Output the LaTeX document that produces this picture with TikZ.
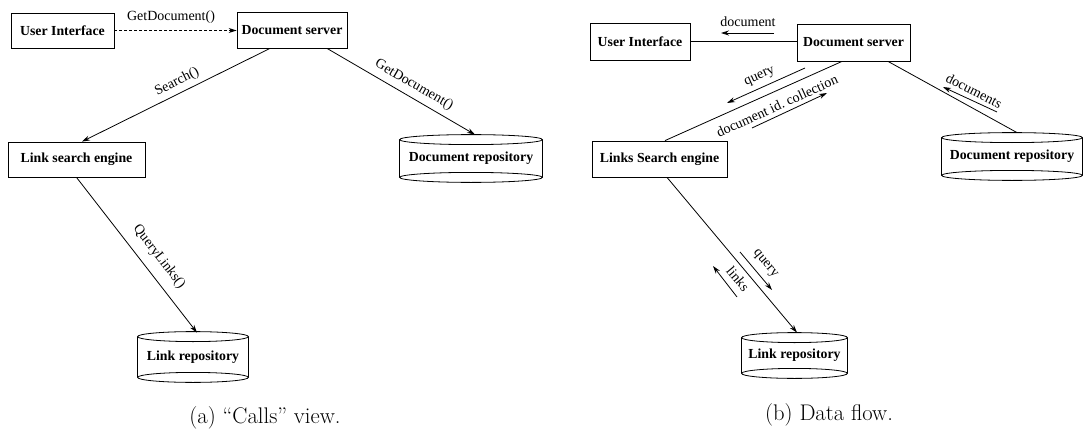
\documentclass[tikz,border=0pt]{standalone}
\usepackage{fontspec}
\newfontfamily\lbl{Liberation Serif}
\usetikzlibrary{arrows.meta,calc}
\begin{document}
\begin{tikzpicture}[x=1pt,y=-1pt,
  line width=0.8pt,
  box/.style={draw, rectangle, inner sep=0pt, font=\lbl\fontsize{13.8}{15}\bfseries\selectfont},
  repo/.style={rectangle, inner sep=0pt, font=\lbl\fontsize{13.8}{15}\bfseries\selectfont},
  lab/.style={inner sep=0pt, font=\lbl\fontsize{14}{16}\selectfont},
  captext/.style={inner sep=0pt, font=\fontsize{22.6}{27}\selectfont},
  tip/.style={-{Stealth[length=8pt,width=5pt]}},
  conn/.style={line width=0.8pt}]
\useasboundingbox (0,0) rectangle (1083,433);

% ---------- (a) Calls view ----------
\node[box, minimum width=103pt, minimum height=35pt] (ui1) at (62.5,30.5) {User Interface};
\node[box, minimum width=110pt, minimum height=36pt] (ds1) at (292,30) {Document server};
\node[box, minimum width=137pt, minimum height=35pt] (lse1) at (76.5,159.5) {Link search engine};
\node[repo, minimum width=142pt, minimum height=37pt] (dr1) at (471,158.5) {Document repository};
\node[repo, minimum width=110pt, minimum height=40pt] (lr1) at (193,357) {Link repository};

\draw[conn, tip, dash pattern=on 3pt off 2pt] (ui1.east) -- (ui1.east -| ds1.west);
\node[lab] (l1) at (171,17) {GetDocument()};

\draw[conn, tip] ([xshift=-22pt]ds1.south) -- ([xshift=5.5pt]lse1.north);
\node[lab, rotate=26.6] (l2) at (177,82) {Search()};

\draw[conn, tip] ([xshift=35pt]ds1.south) -- ([xshift=4pt,yshift=5pt]dr1.north);
\node[lab, rotate=-30] (l3) at (414,85) {GetDocument()};

\draw[conn, tip] (lse1.south) -- ([xshift=4pt,yshift=4pt]lr1.north);
\node[lab, rotate=-52.3] (l4) at (159,257) {QueryLinks()};

\node[captext] (capa) at (265,418) {(a) ``Calls'' view.};

% ---------- (b) Data flow ----------
\node[box, minimum width=100pt, minimum height=37pt] (ui2) at (640,41.5) {User Interface};
\node[box, minimum width=113pt, minimum height=37pt] (ds2) at (853.5,42.5) {Document server};
\node[box, minimum width=135pt, minimum height=36pt] (lse2) at (659.5,159) {Links Search engine};
\node[repo, minimum width=140pt, minimum height=37pt] (dr2) at (1012,156.5) {Document repository};
\node[repo, minimum width=105pt, minimum height=35pt] (lr2) at (794.5,355.5) {Link repository};

\draw[conn] (ui2.east) -- (ui2.east -| ds2.west);
\coordinate (d1s) at (774,33);
\coordinate (d1e) at (721,33);
\draw[conn, tip] (d1s) -- (d1e);
\node[lab] (l5) at (748,22) {document};

\draw[conn] ([xshift=-11.5pt]ds2.south) -- ([xshift=5.5pt]lse2.north);
\coordinate (q1s) at (805,68);
\coordinate (q1e) at (727,103);
\draw[conn, tip] (q1s) -- (q1e);
\node[lab, rotate=24] (l6) at (760,77) {query};
\coordinate (c1s) at (752,128);
\coordinate (c1e) at (827,93);
\draw[conn, tip] (c1s) -- (c1e);
\node[lab, rotate=24.5] (l7) at (777,106) {document id.\ collection};

\draw[conn] ([xshift=34.5pt]ds2.south) -- ([xshift=5pt,yshift=5pt]dr2.north);
\coordinate (s1s) at (997,112);
\coordinate (s1e) at (943,87);
\draw[conn, tip] (s1s) -- (s1e);
\node[lab, rotate=-27] (l8) at (974,91) {documents};

\draw[conn, tip] ([xshift=7.5pt]lse2.south) -- ([xshift=2.5pt,yshift=5pt]lr2.north);
\coordinate (q2s) at (740,252);
\coordinate (q2e) at (772,290);
\draw[conn, tip] (q2s) -- (q2e);
\node[lab, rotate=-50] (l9) at (765,264) {query};
\coordinate (k1s) at (737,297);
\coordinate (k1e) at (713,266);
\draw[conn, tip] (k1s) -- (k1e);
\node[lab, rotate=-50] (l10) at (738,279) {links};

\node[captext] (capb) at (829,415) {(b) Data flow.};

% ---------- cylinders ----------
\foreach \nm in {dr1,lr1,dr2,lr2}{
  \draw[conn] (\nm.north west) -- (\nm.south west) (\nm.north east) -- (\nm.south east);
  \draw[conn] let \p1=(\nm.north west), \p2=(\nm.north east) in (\nm.north) ellipse ({(\x2-\x1)/2} and 5pt);
  \draw[conn] let \p1=(\nm.south west), \p2=(\nm.south east) in (\nm.south) ellipse ({(\x2-\x1)/2} and 5pt);
}
\end{tikzpicture}
\end{document}
